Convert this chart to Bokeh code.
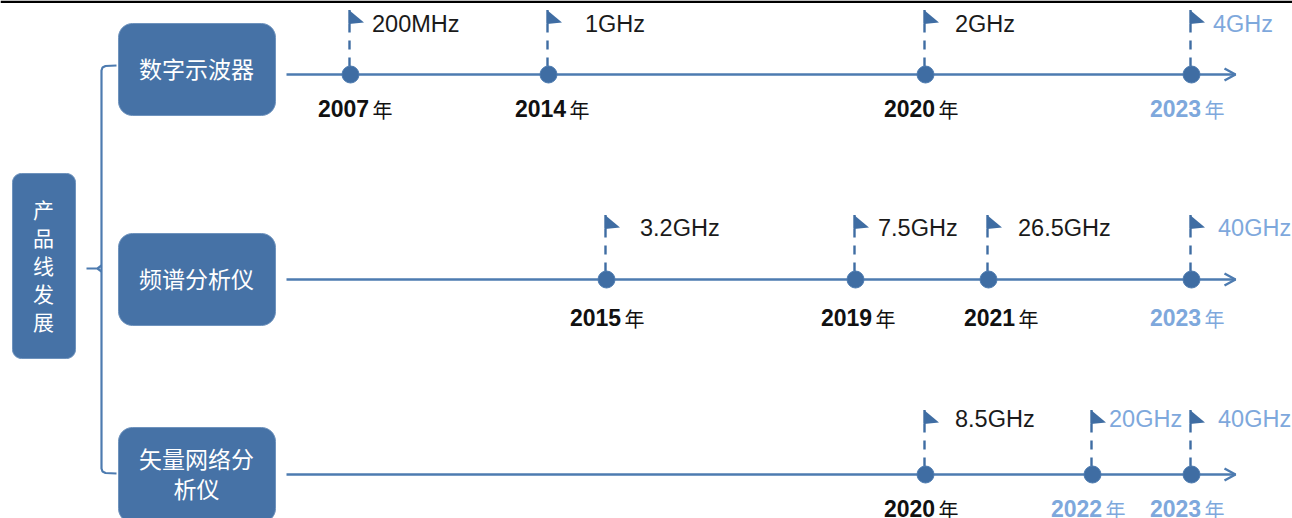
import math

from bokeh.core.properties import value
from bokeh.embed import file_html
from bokeh.models import ColumnDataSource, Range1d
from bokeh.plotting import figure
from bokeh.resources import INLINE

# Product lines and their milestones
root_label = "产\n品\n线\n发\n展"
scope_name = "数字示波器"
spectrum_name = "频谱分析仪"
network_name = "矢量网络分\n析仪"

scope_years = ["2007", "2014", "2020", "2023"]
scope_specs = ["200MHz", "1GHz", "2GHz", "4GHz"]
spectrum_years = ["2015", "2019", "2021", "2023"]
spectrum_specs = ["3.2GHz", "7.5GHz", "26.5GHz", "40GHz"]
network_years = ["2020", "2022", "2023"]
network_specs = ["8.5GHz", "20GHz", "40GHz"]
planned_from = {"数字示波器": 2023, "频谱分析仪": 2023, "矢量网络分析仪": 2022}

# Page layout, in pixels from the top-left corner
W, H = 1292, 518
BOX_FILL = "#4672a6"
BOX_EDGE = "#6f93bd"
LINE = "#4d7bb0"
MARK = "#3f6da3"
PLANNED = "#7ea8dc"
INK = "#111111"

scope_x = [350, 548, 925, 1191]
scope_spec_left = [371.5, 584.5, 954.5, 1212.5]
scope_year_left = [318, 515, 884, 1150]
spectrum_x = [606, 855, 988, 1191]
spectrum_spec_left = [639.5, 877.5, 1017.5, 1217.5]
spectrum_year_left = [570, 821, 964, 1150]
network_x = [925, 1092, 1191]
network_spec_left = [954.5, 1108.5, 1217.5]
network_year_left = [884, 1051, 1150]

AXIS_START, AXIS_END = 287, 1236
BOX_LEFT, BOX_RIGHT = 118, 275

rows = [
    dict(name=scope_name, top=23, bottom=115, axis=74, spec_y=23, year_y=108, name_y=67,
         years=scope_years, specs=scope_specs, xs=scope_x, lefts=scope_spec_left, year_lefts=scope_year_left),
    dict(name=spectrum_name, top=233, bottom=325, axis=279, spec_y=227, year_y=317, name_y=277,
         years=spectrum_years, specs=spectrum_specs, xs=spectrum_x, lefts=spectrum_spec_left, year_lefts=spectrum_year_left),
    dict(name=network_name, top=427, bottom=522, axis=474, spec_y=418, year_y=508, name_y=472.5,
         years=network_years, specs=network_specs, xs=network_x, lefts=network_spec_left, year_lefts=network_year_left),
]

p = figure(
    width=W, height=H, output_backend="svg", toolbar_location=None,
    x_range=Range1d(0, W), y_range=Range1d(H, 0),
    min_border=0, outline_line_color=None, x_axis_location=None, y_axis_location=None,
)
p.grid.visible = False


def rounded(x0, y0, x1, y1, r, steps=10):
    """Outline of a rounded rectangle as two coordinate lists."""
    xs, ys = [], []
    corners = [(x1 - r, y0 + r, -90), (x1 - r, y1 - r, 0), (x0 + r, y1 - r, 90), (x0 + r, y0 + r, 180)]
    for cx, cy, start in corners:
        for i in range(steps + 1):
            a = math.radians(start + 90 * i / steps)
            xs.append(cx + r * math.cos(a))
            ys.append(cy + r * math.sin(a))
    return xs, ys


def add_box(x0, y0, x1, y1, r):
    xs, ys = rounded(x0, y0, x1, y1, r)
    p.patch(xs, ys, fill_color=BOX_FILL, line_color=BOX_EDGE, line_width=1)


def add_text(x, y, s, size, color, align="left", weight="normal", font="Liberation Sans", line_height=1.2):
    p.text([x], [y], text=[s], text_font=value(font), text_font_size=f"{size}px",
           text_color=color, text_align=align, text_baseline="middle",
           text_font_style=weight, text_line_height=line_height)


# Rule along the top edge
p.quad(left=0, right=W, top=0, bottom=2.5, fill_color="#000000", line_color=None)

# Root box and bracket joining it to the three product lines
add_box(12, 173, 75, 358, 9)
add_text(43, 264.5, root_label, 21, "#ffffff", align="center", font="Noto Sans CJK SC", line_height=0.93)

bracket_x, bracket_top, bracket_bottom, bracket_end = 101, 65, 473, 116
p.line([bracket_end, bracket_x + 4, bracket_x + 1, bracket_x, bracket_x, bracket_x + 1, bracket_x + 4, bracket_end],
       [bracket_top, bracket_top + 0.5, bracket_top + 2, bracket_top + 5,
        bracket_bottom - 5, bracket_bottom - 2, bracket_bottom - 0.5, bracket_bottom],
       line_color=LINE, line_width=2.2)
p.line([86, bracket_x - 4, bracket_x], [268, 268, 265], line_color=LINE, line_width=2.2)
p.line([bracket_x - 4, bracket_x], [268, 271], line_color=LINE, line_width=2.2)

for row in rows:
    add_box(BOX_LEFT, row["top"], BOX_RIGHT, row["bottom"], 14)
    add_text((BOX_LEFT + BOX_RIGHT) / 2 - 0.5, row["name_y"], row["name"], 23, "#ffffff",
             align="center", font="Noto Sans CJK SC", line_height=0.87)

    # Time axis with an arrow head
    y = row["axis"]
    p.line([AXIS_START - 1, AXIS_END - 1], [y, y], line_color=LINE, line_width=2.4)
    p.line([AXIS_END - 12, AXIS_END - 1, AXIS_END - 12], [y - 6, y, y + 6], line_color=LINE, line_width=2.4)

    for year, spec, x, left, year_left in zip(row["years"], row["specs"], row["xs"], row["lefts"], row["year_lefts"]):
        planned = int(year) >= planned_from[row["name"].replace("\n", "")]
        color = PLANNED if planned else INK

        # Dashed flag pole, pennant and milestone dot
        flag_top = y - 64.5
        flag_foot = y - 51
        p.line([x - 1, x - 1], [flag_top, flag_foot], line_color=MARK, line_width=2.4)
        p.line([x - 1, x - 1], [flag_foot, y], line_color=MARK, line_width=2.4, line_dash="9 8")
        p.patch([x - 1.5, x + 13.5, x - 1.5], [flag_top, y - 52, flag_foot + 0.5],
                fill_color=MARK, line_color=None)
        source = ColumnDataSource(dict(x=[x], y=[y]))
        p.scatter("x", "y", source=source, size=17, fill_color=MARK, line_color=LINE, line_width=1)

        add_text(left, row["spec_y"], spec, 23.5, PLANNED if planned else "#1a1a1a")
        add_text(year_left - 0.5, row["year_y"], year, 23, color, weight="bold")
        add_text(year_left + 54, row["year_y"] + 1, "年", 20, color, font="Noto Sans CJK SC")

open("out.html", "w").write(file_html(p, INLINE))
